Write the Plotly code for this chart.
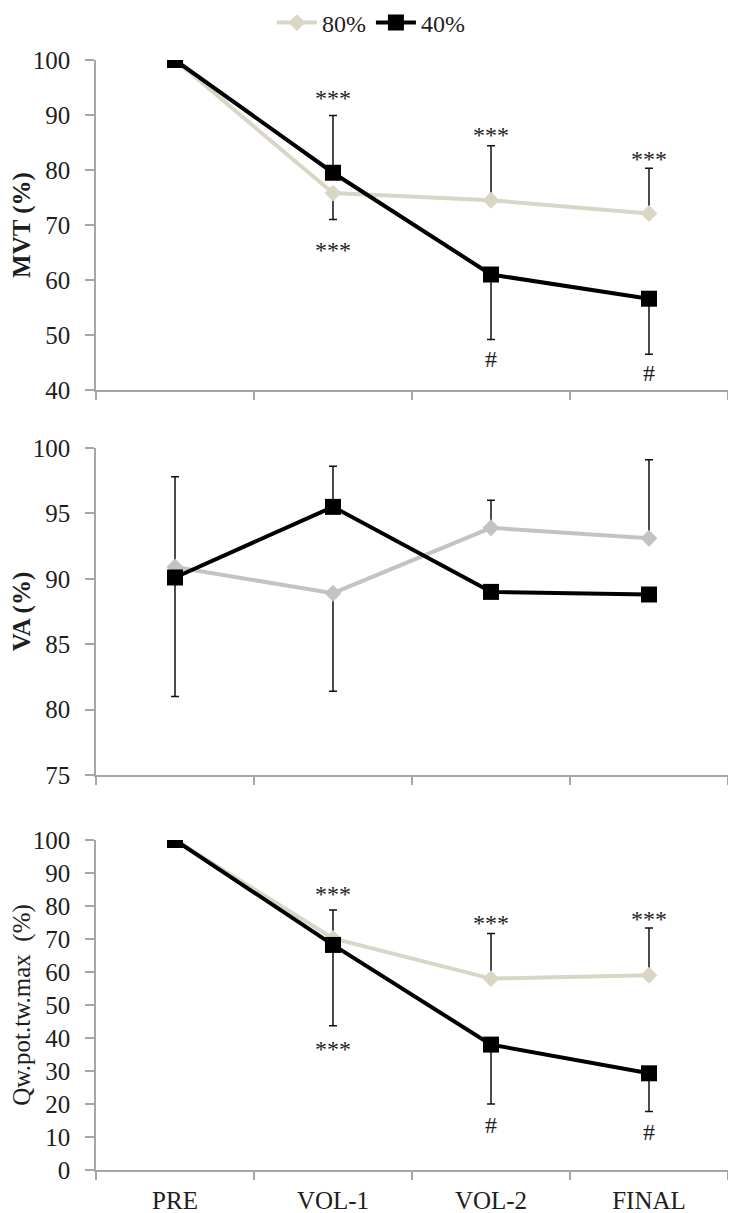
import plotly.graph_objects as go

categories = ["PRE", "VOL-1", "VOL-2", "FINAL"]

# Panel 1: MVT (%)
mvt_80 = [100, 75.8, 74.5, 72.1]
mvt_40 = [100, 79.5, 61.0, 56.6]
mvt_80_plus = [0, 0, 9.9, 8.2]
mvt_80_minus = [0, 4.8, 0, 0]
mvt_40_plus = [0, 10.4, 0, 0]
mvt_40_minus = [0, 0, 11.8, 10.1]

# Panel 2: VA (%)
va_80 = [90.9, 88.9, 93.9, 93.1]
va_40 = [90.1, 95.5, 89.0, 88.8]
va_80_plus = [6.9, 0, 2.1, 6.0]
va_80_minus = [0, 7.5, 0, 0]
va_40_plus = [0, 3.1, 0, 0]
va_40_minus = [9.1, 0, 0, 0]

# Panel 3: Qw.pot.tw.max (%)
q_80 = [100, 70.2, 58.0, 59.0]
q_40 = [100, 68.2, 38.0, 29.3]
q_80_plus = [0, 8.6, 13.7, 14.3]
q_80_minus = [0, 0, 0, 0]
q_40_plus = [0, 0, 0, 0]
q_40_minus = [0, 24.5, 18.0, 11.6]

# Significance marks: (category, y value, text)
marks_1 = [("VOL-1", 94.2, "***"), ("VOL-1", 66.5, "***"), ("VOL-2", 87.5, "***"),
           ("VOL-2", 45.6, "#"), ("FINAL", 83.1, "***"), ("FINAL", 43.0, "#")]
marks_3 = [("VOL-1", 85.5, "***"), ("VOL-1", 38.5, "***"), ("VOL-2", 76.7, "***"),
           ("VOL-2", 13.6, "#"), ("FINAL", 77.9, "***"), ("FINAL", 11.5, "#")]

OFF = 8  # default page body margin
W, H = 736 - OFF, 1213 - OFF
FONT = "Liberation Serif, Times New Roman, serif"
BEIGE = "#d9d6c6"
GRAY2 = "#c3c3c3"
AXIS = "#a6a6a6"
TXT = "#1e1e1e"

def dom(top_px, bot_px):
    return [1 - (bot_px - OFF) / H, 1 - (top_px - OFF) / H]

fig = go.Figure()

def add_panel(idx, v80, v40, p80, m80, p40, m40, c80, show_legend):
    xa = "x" if idx == 1 else f"x{idx}"
    ya = "y" if idx == 1 else f"y{idx}"
    fig.add_trace(go.Scatter(
        x=categories, y=v80, name="80%", mode="lines+markers",
        line=dict(color=c80, width=4),
        marker=dict(symbol="diamond", size=13, color=c80),
        error_y=dict(type="data", symmetric=False, array=p80, arrayminus=m80,
                     color="#111111", thickness=1.5, width=4),
        xaxis=xa, yaxis=ya, showlegend=show_legend, legendgroup="80"))
    fig.add_trace(go.Scatter(
        x=categories, y=v40, name="40%", mode="lines+markers",
        line=dict(color="#000000", width=4),
        marker=dict(symbol="square", size=16, color="#000000"),
        error_y=dict(type="data", symmetric=False, array=p40, arrayminus=m40,
                     color="#111111", thickness=1.5, width=4),
        xaxis=xa, yaxis=ya, showlegend=show_legend, legendgroup="40"))

add_panel(1, mvt_80, mvt_40, mvt_80_plus, mvt_80_minus, mvt_40_plus, mvt_40_minus, BEIGE, True)
add_panel(2, va_80, va_40, va_80_plus, va_80_minus, va_40_plus, va_40_minus, GRAY2, False)
add_panel(3, q_80, q_40, q_80_plus, q_80_minus, q_40_plus, q_40_minus, BEIGE, False)

xcommon = dict(type="category", categoryorder="array", categoryarray=categories,
               range=[-0.5, 3.5], showline=True, linecolor=AXIS, linewidth=1.5,
               ticks="outside", tickson="boundaries", ticklen=8, tickcolor=AXIS,
               tickwidth=1.5, showgrid=False, zeroline=False, fixedrange=True,
               ticklabelstandoff=7,
               tickfont=dict(family=FONT, size=25, color=TXT))
ycommon = dict(showline=True, linecolor=AXIS, linewidth=1.5, ticks="outside",
               ticklen=9, tickcolor=AXIS, tickwidth=1.5, showgrid=False,
               zeroline=False, automargin=False, ticklabelstandoff=10,
               tickfont=dict(family=FONT, size=25, color=TXT))

fig.update_layout(
    width=W, height=H,
    margin=dict(l=96 - OFF, r=W - (728 - OFF), t=0, b=0, autoexpand=False),
    plot_bgcolor="white", paper_bgcolor="white",
    font=dict(family=FONT, color=TXT),
    xaxis=dict(xcommon, anchor="y", domain=[0, 1], showticklabels=False),
    xaxis2=dict(xcommon, anchor="y2", domain=[0, 1], showticklabels=False),
    xaxis3=dict(xcommon, anchor="y3", domain=[0, 1], showticklabels=True),
    yaxis=dict(ycommon, anchor="x", domain=dom(60, 390), range=[40, 100], dtick=10,
               title=dict(text="<b>MVT (%)</b>", font=dict(family=FONT, size=25, color=TXT), standoff=19)),
    yaxis2=dict(ycommon, anchor="x2", domain=dom(448, 775), range=[75, 100], dtick=5,
                title=dict(text="<b>VA (%)</b>", font=dict(family=FONT, size=25, color=TXT), standoff=16)),
    yaxis3=dict(ycommon, anchor="x3", domain=dom(840, 1170), range=[0, 100], dtick=10,
                title=dict(text="Qw.pot.tw.max  (%)", font=dict(family=FONT, size=25, color=TXT), standoff=13)),
    legend=dict(orientation="h", x=0.435, xanchor="center", y=1 - (23 - OFF) / H, yanchor="middle",
                font=dict(family=FONT, size=24, color=TXT), itemwidth=40,
                traceorder="normal", bgcolor="rgba(0,0,0,0)"),
)

for cat, yv, txt in marks_1:
    fig.add_annotation(x=cat, y=yv, xref="x", yref="y", text=txt, showarrow=False,
                       font=dict(family=FONT, size=24, color=TXT),
                       yshift=-6 if txt == "***" else 0)
for cat, yv, txt in marks_3:
    fig.add_annotation(x=cat, y=yv, xref="x3", yref="y3", text=txt, showarrow=False,
                       font=dict(family=FONT, size=24, color=TXT),
                       yshift=-6 if txt == "***" else 0)

fig.write_html("out.html")
